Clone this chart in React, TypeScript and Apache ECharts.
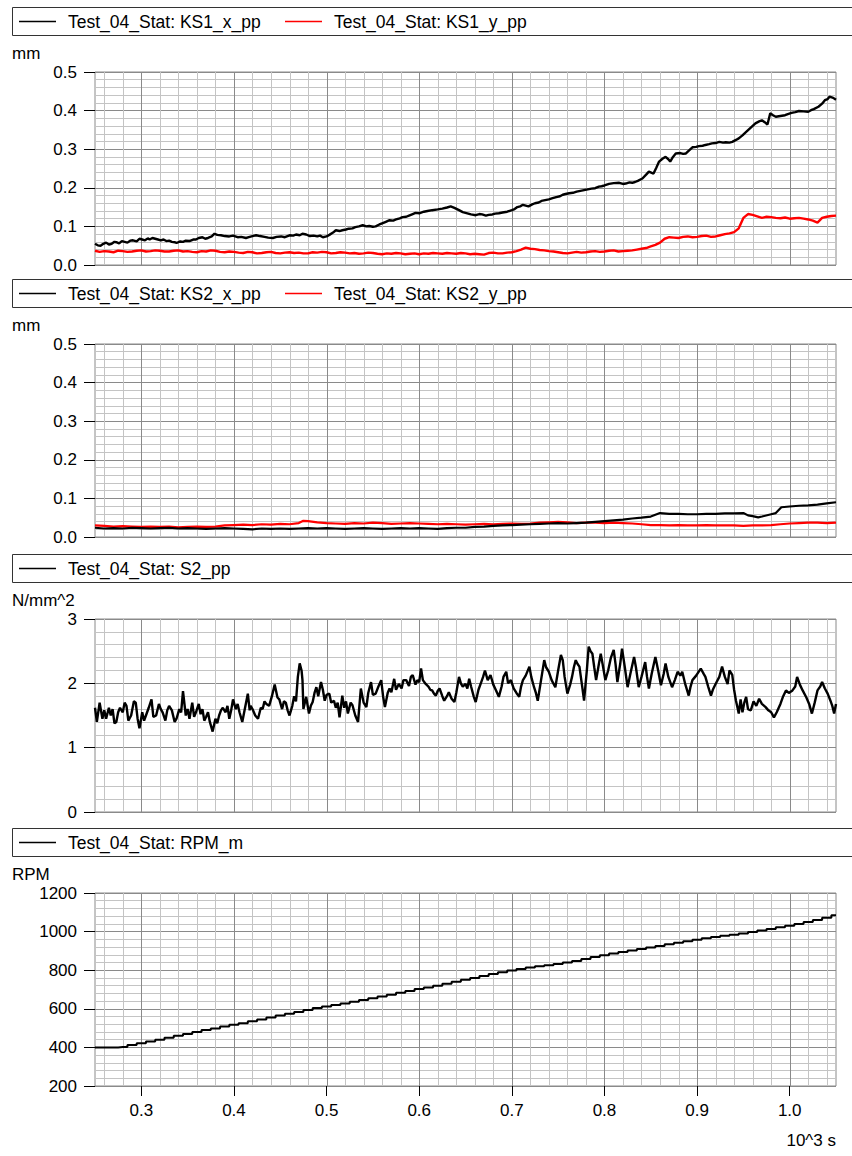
import React, { useEffect, useRef } from "react";
import * as echarts from "echarts";

const FONT = "'Liberation Sans', Arial, sans-serif";
const X_MIN = 0.25;
const X_MAX = 1.05;
const xMajorTicks = [0.3, 0.4, 0.5, 0.6, 0.7, 0.8, 0.9, 1.0];
const xMinorTicks = [0.26, 0.28, 0.32, 0.34, 0.36, 0.38, 0.42, 0.44, 0.46, 0.48, 0.52, 0.54, 0.56, 0.58, 0.62, 0.64, 0.66, 0.68, 0.72, 0.74, 0.76, 0.78, 0.82, 0.84, 0.86, 0.88, 0.92, 0.94, 0.96, 0.98, 1.02, 1.04];

const ks1x: number[][] = [[0.250,0.055],[0.253,0.051],[0.256,0.050],[0.259,0.055],[0.262,0.058],[0.265,0.053],[0.268,0.055],[0.271,0.060],[0.273,0.059],[0.276,0.056],[0.279,0.062],[0.282,0.060],[0.285,0.058],[0.288,0.063],[0.291,0.064],[0.295,0.061],[0.298,0.068],[0.301,0.066],[0.304,0.064],[0.307,0.069],[0.309,0.066],[0.312,0.070],[0.315,0.068],[0.318,0.066],[0.321,0.064],[0.324,0.066],[0.327,0.062],[0.330,0.063],[0.333,0.060],[0.336,0.059],[0.338,0.057],[0.342,0.061],[0.345,0.060],[0.348,0.063],[0.352,0.062],[0.356,0.066],[0.359,0.066],[0.362,0.070],[0.366,0.072],[0.369,0.068],[0.372,0.070],[0.376,0.074],[0.379,0.081],[0.382,0.078],[0.386,0.077],[0.390,0.075],[0.395,0.074],[0.399,0.076],[0.404,0.072],[0.408,0.073],[0.413,0.070],[0.416,0.072],[0.419,0.074],[0.424,0.077],[0.428,0.075],[0.433,0.073],[0.437,0.071],[0.442,0.070],[0.446,0.073],[0.451,0.074],[0.455,0.072],[0.460,0.077],[0.464,0.076],[0.467,0.079],[0.471,0.077],[0.474,0.081],[0.478,0.079],[0.482,0.075],[0.486,0.076],[0.490,0.074],[0.493,0.076],[0.496,0.072],[0.500,0.074],[0.503,0.078],[0.507,0.084],[0.510,0.090],[0.514,0.088],[0.517,0.090],[0.521,0.092],[0.524,0.094],[0.528,0.095],[0.531,0.098],[0.535,0.100],[0.539,0.103],[0.543,0.100],[0.546,0.101],[0.550,0.099],[0.553,0.100],[0.557,0.105],[0.560,0.108],[0.564,0.112],[0.568,0.116],[0.572,0.115],[0.575,0.118],[0.579,0.121],[0.582,0.124],[0.586,0.125],[0.589,0.128],[0.593,0.132],[0.596,0.135],[0.600,0.134],[0.605,0.138],[0.609,0.140],[0.614,0.142],[0.620,0.144],[0.625,0.146],[0.630,0.149],[0.634,0.152],[0.638,0.148],[0.643,0.142],[0.647,0.137],[0.650,0.135],[0.653,0.133],[0.656,0.131],[0.661,0.129],[0.665,0.132],[0.668,0.131],[0.672,0.128],[0.675,0.130],[0.679,0.131],[0.682,0.133],[0.686,0.134],[0.690,0.136],[0.695,0.138],[0.700,0.142],[0.703,0.145],[0.706,0.150],[0.709,0.152],[0.712,0.156],[0.715,0.154],[0.718,0.152],[0.722,0.157],[0.725,0.160],[0.729,0.162],[0.732,0.166],[0.736,0.168],[0.740,0.170],[0.744,0.173],[0.748,0.176],[0.752,0.178],[0.755,0.182],[0.758,0.184],[0.762,0.186],[0.766,0.187],[0.770,0.190],[0.774,0.192],[0.778,0.194],[0.782,0.196],[0.786,0.198],[0.790,0.199],[0.794,0.203],[0.797,0.204],[0.800,0.206],[0.805,0.210],[0.810,0.212],[0.816,0.213],[0.820,0.210],[0.823,0.211],[0.827,0.214],[0.830,0.213],[0.833,0.215],[0.836,0.218],[0.841,0.224],[0.845,0.234],[0.848,0.242],[0.853,0.237],[0.856,0.252],[0.859,0.268],[0.863,0.276],[0.866,0.280],[0.869,0.274],[0.871,0.268],[0.874,0.280],[0.877,0.289],[0.882,0.290],[0.885,0.288],[0.888,0.289],[0.892,0.298],[0.895,0.305],[0.899,0.306],[0.902,0.308],[0.906,0.309],[0.909,0.311],[0.913,0.313],[0.916,0.315],[0.920,0.316],[0.924,0.319],[0.928,0.317],[0.931,0.318],[0.935,0.317],[0.938,0.319],[0.942,0.324],[0.945,0.328],[0.949,0.336],[0.953,0.345],[0.958,0.356],[0.963,0.367],[0.967,0.372],[0.970,0.375],[0.973,0.370],[0.976,0.364],[0.979,0.393],[0.982,0.388],[0.985,0.384],[0.990,0.386],[0.995,0.388],[0.998,0.391],[1.002,0.394],[1.006,0.396],[1.010,0.399],[1.015,0.398],[1.020,0.397],[1.023,0.401],[1.026,0.404],[1.031,0.410],[1.035,0.418],[1.038,0.427],[1.041,0.430],[1.043,0.436],[1.047,0.433],[1.050,0.428]];

const ks1y: number[][] = [[0.250,0.037],[0.255,0.034],[0.26,0.036],[0.265,0.035],[0.27,0.033],[0.275,0.037],[0.28,0.036],[0.285,0.034],[0.29,0.035],[0.295,0.037],[0.30,0.038],[0.305,0.035],[0.31,0.036],[0.315,0.038],[0.32,0.037],[0.325,0.035],[0.33,0.035],[0.335,0.037],[0.34,0.038],[0.345,0.035],[0.35,0.036],[0.355,0.034],[0.36,0.033],[0.365,0.036],[0.37,0.035],[0.375,0.038],[0.38,0.037],[0.385,0.034],[0.39,0.033],[0.395,0.035],[0.40,0.034],[0.405,0.032],[0.41,0.031],[0.415,0.034],[0.42,0.033],[0.425,0.030],[0.43,0.031],[0.435,0.033],[0.44,0.034],[0.445,0.031],[0.45,0.030],[0.455,0.032],[0.46,0.033],[0.465,0.031],[0.47,0.032],[0.475,0.030],[0.48,0.030],[0.485,0.033],[0.49,0.032],[0.495,0.034],[0.50,0.033],[0.505,0.030],[0.51,0.031],[0.515,0.033],[0.52,0.032],[0.525,0.030],[0.53,0.031],[0.535,0.029],[0.54,0.030],[0.545,0.032],[0.55,0.031],[0.555,0.029],[0.56,0.028],[0.565,0.030],[0.57,0.029],[0.575,0.031],[0.58,0.030],[0.585,0.028],[0.59,0.029],[0.595,0.030],[0.60,0.028],[0.605,0.030],[0.61,0.029],[0.615,0.031],[0.62,0.030],[0.625,0.029],[0.63,0.031],[0.635,0.030],[0.64,0.029],[0.645,0.031],[0.65,0.030],[0.655,0.028],[0.66,0.029],[0.665,0.028],[0.67,0.027],[0.675,0.031],[0.68,0.032],[0.685,0.030],[0.69,0.030],[0.695,0.032],[0.70,0.033],[0.705,0.036],[0.71,0.040],[0.715,0.045],[0.72,0.042],[0.725,0.041],[0.73,0.039],[0.735,0.038],[0.74,0.036],[0.745,0.035],[0.75,0.033],[0.755,0.031],[0.76,0.030],[0.765,0.032],[0.77,0.034],[0.775,0.032],[0.78,0.033],[0.785,0.035],[0.79,0.036],[0.795,0.034],[0.80,0.035],[0.805,0.037],[0.81,0.038],[0.815,0.035],[0.82,0.036],[0.825,0.037],[0.83,0.038],[0.835,0.040],[0.84,0.042],[0.845,0.044],[0.85,0.048],[0.855,0.052],[0.86,0.058],[0.865,0.068],[0.87,0.072],[0.875,0.071],[0.88,0.070],[0.885,0.073],[0.89,0.074],[0.895,0.072],[0.90,0.073],[0.905,0.075],[0.91,0.076],[0.915,0.073],[0.92,0.074],[0.925,0.077],[0.93,0.080],[0.935,0.082],[0.94,0.085],[0.945,0.095],[0.95,0.122],[0.955,0.132],[0.96,0.130],[0.965,0.126],[0.97,0.122],[0.975,0.125],[0.98,0.124],[0.985,0.122],[0.99,0.121],[0.995,0.123],[1.00,0.120],[1.005,0.121],[1.01,0.122],[1.015,0.120],[1.02,0.118],[1.025,0.115],[1.03,0.110],[1.035,0.122],[1.04,0.125],[1.045,0.127],[1.05,0.128]];

const ks2x: number[][] = [[0.25,0.024],[0.26,0.022],[0.27,0.023],[0.28,0.022],[0.29,0.024],[0.30,0.023],[0.31,0.022],[0.32,0.023],[0.33,0.024],[0.34,0.022],[0.35,0.023],[0.36,0.022],[0.37,0.021],[0.38,0.022],[0.39,0.023],[0.40,0.022],[0.41,0.021],[0.42,0.020],[0.43,0.022],[0.44,0.021],[0.45,0.022],[0.46,0.021],[0.47,0.022],[0.48,0.023],[0.49,0.022],[0.50,0.023],[0.51,0.022],[0.52,0.021],[0.53,0.022],[0.54,0.023],[0.55,0.022],[0.56,0.021],[0.57,0.022],[0.58,0.023],[0.59,0.022],[0.60,0.023],[0.61,0.022],[0.62,0.021],[0.63,0.023],[0.64,0.024],[0.65,0.024],[0.66,0.026],[0.67,0.027],[0.68,0.029],[0.69,0.030],[0.70,0.031],[0.71,0.032],[0.72,0.033],[0.73,0.034],[0.74,0.035],[0.75,0.036],[0.76,0.035],[0.77,0.036],[0.78,0.037],[0.79,0.039],[0.80,0.041],[0.81,0.043],[0.82,0.045],[0.83,0.048],[0.84,0.050],[0.85,0.053],[0.86,0.062],[0.87,0.060],[0.88,0.060],[0.89,0.059],[0.90,0.059],[0.91,0.060],[0.92,0.060],[0.93,0.061],[0.94,0.061],[0.95,0.062],[0.955,0.056],[0.96,0.054],[0.966,0.051],[0.97,0.053],[0.98,0.059],[0.985,0.062],[0.991,0.077],[1.00,0.079],[1.01,0.081],[1.02,0.082],[1.03,0.084],[1.04,0.087],[1.05,0.090]];

const ks2y: number[][] = [[0.25,0.030],[0.26,0.029],[0.27,0.027],[0.28,0.028],[0.29,0.027],[0.30,0.026],[0.31,0.027],[0.32,0.026],[0.33,0.027],[0.34,0.025],[0.35,0.026],[0.36,0.027],[0.37,0.026],[0.38,0.027],[0.39,0.030],[0.40,0.031],[0.41,0.032],[0.42,0.031],[0.43,0.033],[0.44,0.032],[0.45,0.034],[0.46,0.033],[0.47,0.036],[0.475,0.042],[0.48,0.041],[0.49,0.038],[0.50,0.036],[0.51,0.035],[0.52,0.034],[0.53,0.036],[0.54,0.035],[0.55,0.037],[0.56,0.036],[0.57,0.034],[0.58,0.035],[0.59,0.036],[0.60,0.035],[0.61,0.034],[0.62,0.033],[0.63,0.034],[0.64,0.033],[0.65,0.032],[0.66,0.033],[0.67,0.034],[0.68,0.033],[0.69,0.034],[0.70,0.035],[0.71,0.034],[0.72,0.035],[0.73,0.037],[0.74,0.038],[0.75,0.039],[0.76,0.038],[0.77,0.036],[0.78,0.037],[0.79,0.037],[0.80,0.036],[0.81,0.037],[0.82,0.036],[0.83,0.035],[0.84,0.033],[0.85,0.031],[0.86,0.031],[0.87,0.030],[0.88,0.031],[0.89,0.030],[0.90,0.030],[0.91,0.031],[0.92,0.030],[0.93,0.030],[0.94,0.030],[0.95,0.029],[0.96,0.030],[0.97,0.030],[0.98,0.031],[0.99,0.033],[1.00,0.035],[1.01,0.036],[1.02,0.037],[1.03,0.037],[1.04,0.036],[1.05,0.037]];

const s2: number[][] = [[0.250,1.62],[0.252,1.40],[0.255,1.70],[0.258,1.45],[0.260,1.58],[0.262,1.45],[0.265,1.62],[0.267,1.50],[0.269,1.60],[0.271,1.38],[0.273,1.40],[0.275,1.55],[0.277,1.62],[0.280,1.55],[0.282,1.70],[0.284,1.65],[0.286,1.42],[0.289,1.50],[0.292,1.72],[0.294,1.70],[0.296,1.45],[0.298,1.30],[0.301,1.55],[0.303,1.42],[0.305,1.50],[0.308,1.62],[0.311,1.75],[0.313,1.48],[0.316,1.50],[0.319,1.68],[0.321,1.60],[0.323,1.55],[0.326,1.42],[0.328,1.58],[0.330,1.65],[0.333,1.58],[0.336,1.40],[0.338,1.45],[0.341,1.60],[0.343,1.55],[0.345,1.88],[0.348,1.50],[0.350,1.60],[0.352,1.45],[0.355,1.70],[0.357,1.48],[0.359,1.55],[0.362,1.68],[0.364,1.52],[0.366,1.60],[0.368,1.42],[0.370,1.48],[0.372,1.55],[0.374,1.40],[0.377,1.25],[0.380,1.45],[0.382,1.38],[0.384,1.50],[0.386,1.58],[0.388,1.62],[0.391,1.55],[0.393,1.65],[0.395,1.45],[0.397,1.58],[0.399,1.75],[0.402,1.60],[0.404,1.68],[0.406,1.55],[0.409,1.40],[0.412,1.62],[0.415,1.84],[0.417,1.58],[0.418,1.65],[0.420,1.60],[0.423,1.50],[0.426,1.45],[0.429,1.62],[0.431,1.60],[0.433,1.72],[0.435,1.68],[0.438,1.65],[0.441,1.80],[0.444,1.98],[0.447,1.78],[0.449,1.75],[0.452,1.60],[0.454,1.72],[0.456,1.70],[0.458,1.58],[0.460,1.50],[0.463,1.65],[0.465,1.80],[0.467,1.72],[0.469,2.10],[0.471,2.31],[0.473,2.20],[0.474,2.05],[0.475,1.60],[0.478,1.79],[0.481,1.53],[0.483,1.65],[0.485,1.71],[0.487,1.85],[0.489,1.94],[0.491,1.80],[0.494,2.02],[0.496,1.90],[0.498,1.73],[0.500,1.82],[0.503,1.84],[0.505,1.70],[0.508,1.73],[0.510,1.62],[0.512,1.70],[0.514,1.47],[0.517,1.81],[0.519,1.62],[0.521,1.72],[0.523,1.53],[0.526,1.70],[0.528,1.66],[0.531,1.50],[0.534,1.40],[0.537,1.92],[0.540,1.70],[0.543,1.63],[0.545,1.85],[0.548,2.02],[0.550,1.82],[0.553,1.84],[0.556,1.95],[0.559,2.05],[0.561,1.80],[0.563,1.63],[0.566,1.85],[0.568,1.92],[0.570,1.86],[0.573,2.07],[0.575,1.90],[0.578,1.99],[0.581,1.92],[0.583,2.05],[0.586,2.05],[0.589,1.96],[0.591,2.10],[0.593,2.13],[0.596,1.98],[0.598,2.05],[0.600,2.02],[0.602,2.23],[0.604,2.05],[0.607,1.99],[0.610,1.95],[0.612,1.90],[0.614,1.89],[0.616,1.84],[0.618,1.81],[0.620,1.88],[0.622,1.92],[0.625,1.80],[0.627,1.73],[0.630,1.80],[0.632,1.86],[0.635,1.76],[0.638,1.71],[0.640,1.85],[0.643,2.10],[0.645,2.00],[0.647,1.95],[0.650,1.99],[0.652,1.92],[0.654,2.07],[0.656,1.95],[0.659,1.79],[0.661,1.71],[0.664,1.90],[0.667,2.02],[0.669,2.10],[0.671,2.20],[0.674,2.05],[0.677,2.13],[0.680,1.98],[0.683,1.89],[0.686,1.79],[0.689,1.95],[0.691,2.10],[0.694,2.18],[0.696,2.00],[0.699,2.05],[0.702,1.92],[0.705,1.85],[0.708,1.79],[0.710,1.95],[0.712,2.05],[0.715,2.12],[0.719,2.26],[0.721,2.10],[0.724,1.94],[0.726,1.85],[0.728,1.73],[0.731,2.00],[0.735,2.36],[0.737,2.25],[0.740,2.18],[0.743,2.05],[0.747,1.94],[0.750,2.20],[0.753,2.44],[0.755,2.36],[0.757,2.10],[0.760,1.84],[0.763,1.98],[0.765,2.10],[0.767,2.25],[0.769,2.36],[0.771,2.30],[0.773,2.26],[0.776,1.95],[0.778,1.73],[0.781,2.20],[0.783,2.57],[0.785,2.50],[0.787,2.46],[0.789,2.25],[0.791,2.05],[0.794,2.30],[0.796,2.46],[0.798,2.30],[0.801,2.05],[0.804,2.20],[0.807,2.40],[0.810,2.52],[0.812,2.30],[0.814,2.02],[0.817,2.30],[0.819,2.54],[0.822,2.25],[0.825,1.94],[0.828,2.15],[0.832,2.41],[0.834,2.25],[0.837,1.94],[0.840,2.10],[0.844,2.33],[0.846,2.10],[0.848,1.92],[0.851,2.15],[0.855,2.41],[0.858,2.20],[0.861,1.97],[0.864,2.15],[0.866,2.31],[0.869,2.10],[0.873,1.94],[0.876,2.05],[0.879,2.18],[0.882,2.12],[0.884,2.18],[0.887,2.00],[0.891,1.81],[0.893,1.95],[0.895,2.05],[0.899,2.12],[0.904,2.23],[0.907,2.15],[0.909,2.10],[0.912,1.95],[0.915,1.81],[0.917,1.90],[0.920,1.99],[0.924,2.10],[0.927,2.26],[0.930,2.10],[0.933,1.99],[0.935,2.20],[0.938,2.13],[0.940,1.90],[0.942,1.73],[0.944,1.60],[0.945,1.53],[0.947,1.75],[0.949,1.55],[0.951,1.70],[0.953,1.79],[0.955,1.60],[0.958,1.58],[0.961,1.72],[0.964,1.65],[0.967,1.76],[0.970,1.68],[0.974,1.63],[0.977,1.58],[0.980,1.55],[0.983,1.47],[0.986,1.55],[0.990,1.68],[0.993,1.80],[0.996,1.89],[0.999,1.85],[1.003,1.89],[1.006,1.95],[1.008,2.10],[1.011,1.98],[1.014,1.89],[1.018,1.78],[1.021,1.68],[1.024,1.53],[1.027,1.70],[1.030,1.89],[1.033,1.95],[1.035,2.02],[1.038,1.92],[1.041,1.84],[1.044,1.73],[1.046,1.65],[1.048,1.53],[1.050,1.68]];

const rpm: number[][] = [[0.25,400],[0.26,400],[0.27,400],[0.28,402],[0.29,412],[0.30,422],[0.31,430],[0.32,440],[0.33,450],[0.34,460],[0.35,470],[0.36,480],[0.37,490],[0.38,498],[0.39,508],[0.40,517],[0.41,525],[0.42,535],[0.43,545],[0.44,555],[0.45,565],[0.46,574],[0.47,584],[0.48,594],[0.49,604],[0.50,612],[0.51,620],[0.52,628],[0.53,636],[0.54,645],[0.55,655],[0.56,664],[0.57,673],[0.58,683],[0.59,692],[0.60,702],[0.61,711],[0.62,720],[0.63,730],[0.64,740],[0.65,750],[0.66,760],[0.67,770],[0.68,780],[0.69,790],[0.70,798],[0.71,806],[0.72,814],[0.73,820],[0.74,826],[0.75,832],[0.76,840],[0.77,848],[0.78,858],[0.79,868],[0.80,878],[0.81,886],[0.82,894],[0.83,902],[0.84,910],[0.85,918],[0.86,926],[0.87,934],[0.88,942],[0.89,950],[0.90,958],[0.91,965],[0.92,972],[0.93,978],[0.94,984],[0.95,990],[0.96,998],[0.97,1006],[0.98,1014],[0.99,1022],[1.00,1030],[1.01,1040],[1.02,1050],[1.03,1060],[1.04,1072],[1.05,1085]];

const unitLabels = ["mm", "mm", "N/mm^2", "RPM"];
const legendNames = [
  ["Test_04_Stat: KS1_x_pp", "Test_04_Stat: KS1_y_pp"],
  ["Test_04_Stat: KS2_x_pp", "Test_04_Stat: KS2_y_pp"],
  ["Test_04_Stat: S2_pp"],
  ["Test_04_Stat: RPM_m"],
];
const seriesColors = ["#000000", "#ff0000"];
const panelData = [[ks1x, ks1y], [ks2x, ks2y], [s2], [rpm]];
const yMins = [0, 0, 0, 200];
const yMaxs = [0.5, 0.5, 3, 1200];
const yIntervals = [0.1, 0.1, 1, 200];
const yDecimals = [1, 1, 0, 0];
const xUnitLabel = "10^3 s";

const GRID_TOPS = [72, 344, 619, 893];
const GRID_H = 193;
const LEFT = 95;
const RIGHT = 16;
const MAJOR = "#8a8a8a";
const MINOR = "#c4c4c4";
const LINE_WIDTHS = [2.4, 2.2, 2.4, 2];

function vLines(i: number, values: number[], color: string, z: number) {
  return {
    type: "custom",
    xAxisIndex: i,
    yAxisIndex: i,
    silent: true,
    z,
    clip: false,
    data: values.map((v) => [v, yMins[i]]),
    encode: { x: 0, y: 1 },
    renderItem: (params: any, api: any) => {
      const cs = params.coordSys;
      const px = Math.round(api.coord([api.value(0), yMins[i]])[0]) + 0.5;
      return {
        type: "line",
        shape: { x1: px, y1: cs.y, x2: px, y2: cs.y + cs.height },
        style: { stroke: color, lineWidth: 1 },
      };
    },
  };
}

export default function App() {
  const ref = useRef<HTMLDivElement>(null);
  useEffect(() => {
    if (!ref.current) return;
    const chart = echarts.init(ref.current, null, { renderer: "svg" });

    const graphics: any[] = [];
    GRID_TOPS.forEach((top, i) => {
      const boxTop = top - 65;
      const cy = boxTop + 14.5;
      graphics.push({
        type: "rect",
        shape: { x: 12.5, y: boxTop + 0.5, width: 860, height: 28 },
        style: { fill: "none", stroke: "#333", lineWidth: 1 },
        silent: true,
      });
      legendNames[i].forEach((name, k) => {
        const lx = k === 0 ? 19 : 285;
        graphics.push({
          type: "line",
          shape: { x1: lx, y1: cy, x2: lx + 37, y2: cy },
          style: { stroke: seriesColors[k], lineWidth: 1.5 },
          silent: true,
        });
        graphics.push({
          type: "text",
          x: lx + 49,
          y: cy,
          style: { text: name, fill: "#000", font: `17.5px ${FONT}`, textVerticalAlign: "middle", verticalAlign: "middle" },
          silent: true,
        });
      });
      graphics.push({
        type: "text",
        x: 12,
        y: top - 19,
        style: { text: unitLabels[i], fill: "#000", font: `17px ${FONT}`, verticalAlign: "middle", textVerticalAlign: "middle" },
        silent: true,
      });
    });
    graphics.push({
      type: "text",
      x: 836,
      y: 1140,
      style: { text: xUnitLabel, fill: "#000", font: `17px ${FONT}`, align: "right", textAlign: "right", verticalAlign: "middle", textVerticalAlign: "middle" },
      silent: true,
    });

    const series: any[] = [];
    GRID_TOPS.forEach((_, i) => {
      series.push(vLines(i, xMinorTicks, MINOR, 1));
      series.push(vLines(i, xMajorTicks, MAJOR, 2));
      panelData[i].forEach((d, k) => {
        series.push({
          type: "line",
          name: legendNames[i][k],
          xAxisIndex: i,
          yAxisIndex: i,
          data: d,
          step: i === 3 ? "middle" : undefined,
          showSymbol: false,
          symbol: "none",
          silent: true,
          z: 5 - k,
          lineStyle: { color: seriesColors[k], width: LINE_WIDTHS[i] },
        });
      });
    });

    const option: any = {
      animation: false,
      backgroundColor: "#ffffff",
      grid: GRID_TOPS.map((top) => ({
        left: LEFT,
        right: RIGHT,
        top,
        height: GRID_H,
        show: true,
        borderColor: MAJOR,
        borderWidth: 1,
        backgroundColor: "transparent",
      })),
      xAxis: GRID_TOPS.map((_, i) => ({
        gridIndex: i,
        type: "value",
        min: X_MIN,
        max: X_MAX,
        splitLine: { show: false },
        axisLine: { show: false },
        axisTick:
          i === 3
            ? { show: true, customValues: xMajorTicks, length: 10, lineStyle: { color: "#000", width: 1 } }
            : { show: false },
        axisLabel:
          i === 3
            ? {
                show: true,
                customValues: xMajorTicks,
                formatter: (v: number) => v.toFixed(1),
                color: "#000",
                fontSize: 17,
                fontFamily: FONT,
                margin: 16,
              }
            : { show: false },
      })),
      yAxis: GRID_TOPS.map((_, i) => ({
        gridIndex: i,
        type: "value",
        min: yMins[i],
        max: yMaxs[i],
        interval: yIntervals[i],
        axisLine: { show: false },
        axisTick: { show: true, length: 11, lineStyle: { color: "#000", width: 1 } },
        axisLabel: {
          color: "#000",
          fontSize: 17,
          fontFamily: FONT,
          margin: 18,
          formatter: (v: number) => v.toFixed(yDecimals[i]),
        },
        splitLine: { show: true, lineStyle: { color: MAJOR, width: 1 } },
        minorTick: { show: false, splitNumber: 5 },
        minorSplitLine: { show: true, lineStyle: { color: MINOR, width: 1 } },
      })),
      graphic: graphics,
      series,
    };
    chart.setOption(option);
    return () => chart.dispose();
  }, []);

  return (
    <div
      ref={ref}
      style={{ position: "absolute", left: 0, top: 0, width: 852, height: 1156, background: "#fff" }}
    />
  );
}
